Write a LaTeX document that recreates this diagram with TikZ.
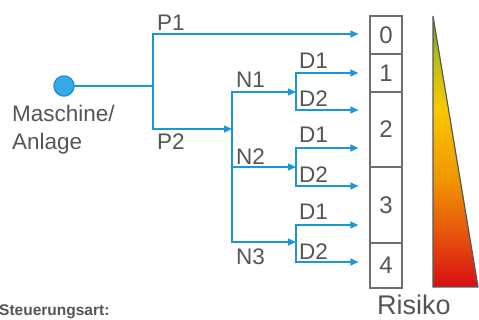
\documentclass[tikz,border=0pt]{standalone}
\usepackage{fontspec}
\setmainfont{Liberation Sans}
\usetikzlibrary{arrows.meta}

\definecolor{linie}{RGB}{28,150,218}
\definecolor{punkt}{RGB}{55,170,230}
\definecolor{schrift}{RGB}{85,85,85}
\definecolor{rahmen}{RGB}{110,110,110}
\definecolor{gruen}{RGB}{85,145,40}
\definecolor{oliv}{RGB}{180,190,20}
\definecolor{gelb}{RGB}{250,200,0}
\definecolor{orange1}{RGB}{240,150,0}
\definecolor{orangerot}{RGB}{230,85,10}
\definecolor{rot}{RGB}{215,15,20}

\pgfdeclareverticalshading{risiko}{100bp}{color(0bp)=(rot); color(25bp)=(rot);
  color(35bp)=(orangerot); color(45bp)=(orange1); color(58bp)=(gelb);
  color(68bp)=(oliv); color(75bp)=(gruen); color(100bp)=(gruen)}

\tikzset{
  ast/.style={draw=linie, line width=1.3pt, line cap=rect},
  pfeil/.style={ast, -{Triangle[length=8pt,width=7pt]}, shorten >=11pt},
  lab/.style={text=schrift, font=\fontsize{22.5}{26}\selectfont, inner sep=0pt, anchor=base west},
  stufe/.style={draw=rahmen, line width=1.2pt, text=schrift, font=\fontsize{24}{28}\selectfont,
    minimum width=32pt, inner sep=0pt},
}

\begin{document}
\begin{tikzpicture}[x=1pt,y=-1pt]
\useasboundingbox (0,0) rectangle (479,320);
% Risikostufen
\node[stufe,minimum height=38pt] (r0) at (386,35) {0};
\node[stufe,minimum height=38pt] (r1) at (386,73) {1};
\node[stufe,minimum height=75pt] (r2) at (386,129.5) {2};
\node[stufe,minimum height=76pt] (r3) at (386,205) {3};
\node[stufe,minimum height=45pt] (r4) at (386,265.5) {4};
\shadedraw[shading=risiko,draw=rahmen!80!black,line width=1.2pt] (433,16) -- (433,287) -- (478,287) -- cycle;
\node[text=schrift,font=\fontsize{27}{30}\selectfont,inner sep=0pt,anchor=base] (risiko) at (414,314) {Risiko};

% Maschine und Verzweigungen
\node[circle,fill=punkt,draw=linie,line width=1.5pt,minimum size=20pt,inner sep=0pt] (anlage) at (64,86) {};
\node[lab] (masch) at (12,122) {Maschine/};
\node[lab] (anl) at (12,150) {Anlage};
\coordinate (p) at (153,86);
\coordinate (p1) at (153,34);
\coordinate (p2) at (153,129);
\coordinate (n) at (232,129);
\coordinate (n1) at (232,92);
\coordinate (n2) at (232,167);
\coordinate (n3) at (232,242);
\draw[ast] (anlage) -- (p);
\draw[ast] (p1) -- (p2);
\draw[pfeil] (p1) -- (p1 -| r0.west);
\draw[pfeil,shorten >=0pt] (p2) -- (n);
\draw[ast] (n1) -- (n3);
\node[lab] (lp1) at (157,31) {P1};
\node[lab] (lp2) at (157,150) {P2};
\node[lab] (ln1) at (236,88) {N1};
\node[lab] (ln2) at (236,165) {N2};
\node[lab] (ln3) at (236,265) {N3};

\coordinate (d11) at (296,73);
\coordinate (d12) at (296,110);
\coordinate (d21) at (296,148);
\coordinate (d22) at (296,186);
\coordinate (d31) at (296,225);
\coordinate (d32) at (296,262);
\draw[pfeil,shorten >=0pt] (n1) -- (n1 -| d11);
\draw[pfeil,shorten >=0pt] (n2) -- (n2 -| d21);
\draw[pfeil,shorten >=0pt] (n3) -- (n3 -| d31);
\draw[ast] (d11) -- (d12);
\draw[ast] (d21) -- (d22);
\draw[ast] (d31) -- (d32);
\draw[pfeil] (d11) -- (d11 -| r1.west);
\draw[pfeil] (d12) -- (d12 -| r2.west);
\draw[pfeil] (d21) -- (d21 -| r2.west);
\draw[pfeil] (d22) -- (d22 -| r3.west);
\draw[pfeil] (d31) -- (d31 -| r3.west);
\draw[pfeil] (d32) -- (d32 -| r4.west);
\node[lab] (ld11) at (299,69) {D1};
\node[lab] (ld12) at (299,107) {D2};
\node[lab] (ld21) at (299,143) {D1};
\node[lab] (ld22) at (299,183) {D2};
\node[lab] (ld31) at (299,220) {D1};
\node[lab] (ld32) at (299,260) {D2};

\node[lab,font=\bfseries\fontsize{15.5}{18}\selectfont] (art) at (-1,316) {Steuerungsart:};
\end{tikzpicture}
\end{document}
